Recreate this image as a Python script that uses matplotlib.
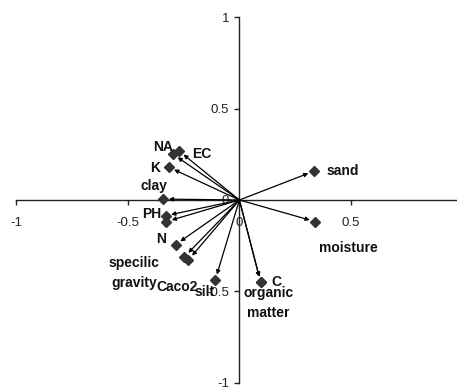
import numpy as np
import matplotlib
matplotlib.use("Agg")
import matplotlib.pyplot as plt

plt.rcParams['font.family'] = ['Liberation Sans', 'DejaVu Sans']

# loadings of each soil variable on the two components
names = ["NA", "EC", "K", "clay", "PH", "", "N", "specilic\ngravity", "Caco2",
         "silt", "C", "organic\nmatter", "sand", "moisture"]
comp1 = [-0.297, -0.270, -0.315, -0.341, -0.330, -0.327, -0.285, -0.246, -0.228,
         -0.108, 0.095, 0.095, 0.332, 0.339]
comp2 = [0.251, 0.268, 0.179, 0.005, -0.086, -0.118, -0.244, -0.311, -0.328,
         -0.437, -0.450, -0.450, 0.157, -0.118]

# label offsets in pixels from each marker
offsets = [(-10, 7), (23, -3), (-14, -1), (-9, 13), (-14, 2), (0, 0), (-15, 6),
           (-50, -16), (-11, -27), (-11, -12), (16, 0), (8, -21), (29, 0), (33, -26)]

fig = plt.figure(figsize=(4.57, 3.88), dpi=100)
ax = fig.add_axes([16 / 457, 5.3 / 388, 446.8 / 457, 365.4 / 388])
ax.set_xlim(-1, 1)
ax.set_ylim(-1, 1)

for s in ["top", "right"]:
    ax.spines[s].set_visible(False)
for s in ["left", "bottom"]:
    ax.spines[s].set_position(("data", 0))
    ax.spines[s].set_color("#222222")
    ax.spines[s].set_linewidth(1.0)

ax.set_xticks([-1, -0.5, 0, 0.5])
ax.set_xticklabels(["-1", "-0.5", "0", "0.5"])
ax.set_yticks([-1, -0.5, 0, 0.5, 1])
ax.set_yticklabels(["-1", "-0.5", "0", "0.5", "1"])
ax.tick_params(axis="x", direction="out", length=3.5, width=1, pad=9,
               labelsize=9.5, colors="#222222")
ax.tick_params(axis="y", direction="out", length=3.5, width=1, pad=4,
               labelsize=9.5, colors="#222222")
ax.patch.set_visible(False)

for x, y in zip(comp1, comp2):
    ax.annotate("", xy=(x, y), xytext=(0, 0),
                arrowprops=dict(arrowstyle="-|>", color="black", lw=0.9,
                                shrinkA=0, shrinkB=4, mutation_scale=6))

ax.plot(comp1, comp2, linestyle="none", marker="D", ms=5.5,
        color="#333333", zorder=3, clip_on=False)

for n, x, y, off in zip(names, comp1, comp2, offsets):
    if n:
        ax.annotate(n, xy=(x, y), xytext=off, textcoords="offset pixels",
                    ha="center", va="center", fontsize=10, fontweight="bold",
                    color="#111111", linespacing=1.5)

fig.savefig("out.png", dpi=100)
